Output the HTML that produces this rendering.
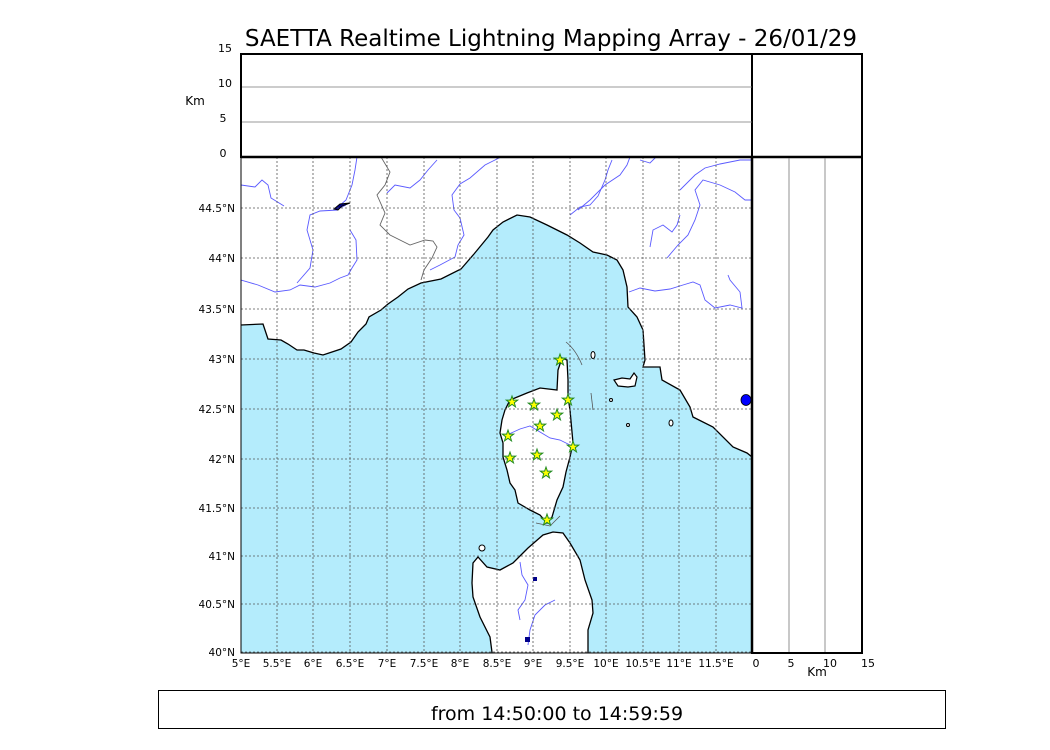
<!DOCTYPE html>
<html><head><meta charset="utf-8"><style>
html,body{margin:0;padding:0;background:#fff;}
svg{display:block;font-family:"DejaVu Sans","Liberation Sans",sans-serif;}
</style></head><body>
<svg width="1050" height="750" viewBox="0 0 1050 750" xmlns="http://www.w3.org/2000/svg">
<rect width="1050" height="750" fill="#fff"/>
<text x="551" y="46" font-size="23" text-anchor="middle">SAETTA Realtime Lightning Mapping Array - 26/01/29</text>

<defs><clipPath id="mc"><rect x="241" y="157" width="511" height="496"/></clipPath></defs>
<g clip-path="url(#mc)">
<path fill="#b4ecfc" stroke="#000" stroke-width="1.3" d="M241,325 L263,324 L268,339 L281,340 L288,344 L297,350 L304,350 L314,353 L323,355 L332,352 L341,349 L351,342 L358,332 L366,324 L369,317 L381,310 L388,304 L398,297 L408,289 L421,283 L441,279 L461,269 L474,254 L488,237 L493,230 L503,222 L517,215 L530,217 L547,225 L567,235 L580,243 L593,252 L607,255 L617,260 L623,270 L627,287 L628,307 L637,317 L643,330 L645,360 L643,367 L660,367 L662,380 L680,390 L690,407 L693,417 L713,427 L733,447 L747,453 L752,457 L760,660 L230,660 L230,325 Z"/>
<path fill="#fff" stroke="#000" stroke-width="1.3" d="M562,358 L567,360 L568,380 L568,397 L570,410 L573,443 L570,457 L566,472 L563,487 L557,500 L552,517 L547,523 L540,515 L530,510 L518,503 L515,490 L510,483 L507,470 L503,457 L503,443 L500,433 L502,420 L505,410 L510,400 L527,393 L540,388 L557,390 L558,370 Z"/>
<path fill="#fff" stroke="#000" stroke-width="1.3" d="M528,548 L543,535 L553,532 L563,533 L570,543 L580,560 L585,580 L592,600 L593,613 L588,630 L588,660 L493,660 L490,637 L480,617 L473,597 L472,583 L473,563 L478,557 L487,567 L500,570 L513,563 L523,553 Z"/>
<path fill="#fff" stroke="#000" stroke-width="1.2" d="M614,380 L622,378 L630,379 L634,373 L637,377 L635,386 L628,387 L618,386 Z"/>
<ellipse cx="593" cy="355" rx="2" ry="3.5" fill="#fff" stroke="#000"/>
<ellipse cx="671" cy="423" rx="2" ry="3" fill="#fff" stroke="#000"/>
<ellipse cx="628" cy="425" rx="1.5" ry="1.5" fill="#fff" stroke="#000"/>
<ellipse cx="611" cy="400" rx="1.5" ry="1.5" fill="#fff" stroke="#000"/>
<ellipse cx="482" cy="548" rx="3" ry="3" fill="#fff" stroke="#000"/>
<path d="M566,342 Q576,350 582,365" stroke="#555" fill="none" stroke-width="0.8"/>
<path d="M591,393 L593,410" stroke="#555" fill="none" stroke-width="0.8"/>
<path d="M536,523 L550,526 L560,516" stroke="#555" fill="none" stroke-width="0.8"/>
<path d="M381,157 L390,172 L385,185 L377,195 L385,213 L380,225 L390,235 L410,245 L425,240 L433,241 L437,247 L432,258 L424,270 L421,280" stroke="#666" fill="none" stroke-width="0.9"/>
<g stroke="#5a5aff" fill="none" stroke-width="0.9">
<path d="M241,185 L255,187 L262,180 L268,185 L271,198 L284,206"/>
<path d="M241,280 L258,285 L275,292 L290,290 L300,285 L315,287 L330,283 L340,278 L348,275 L352,268 L357,260 L356,240 L350,230"/>
<path d="M338,210 L320,211 L310,215 L307,230 L313,250 L310,268 L297,283"/>
<path d="M336,210 L346,205"/>
<path d="M357,157 L355,170 L352,185 L346,200 L338,207"/>
<path d="M387,193 L395,185 L410,188 L420,180 L428,170 L437,160"/>
<path d="M501,157 L485,165 L470,178 L460,184 L452,195 L454,210 L460,218 L464,235 L458,245 L455,257 L440,265 L430,270"/>
<path d="M570,215 L580,207 L590,205 L598,196 L605,180 L608,170 L612,160"/>
<path d="M650,247 L653,230 L663,225 L672,232 L677,225 L680,215"/>
<path d="M667,258 L678,245 L688,235 L695,220 L700,205 L695,190 L703,180 L720,185 L735,192 L745,200 L752,200"/>
<path d="M680,190 L695,175 L705,168 L720,164 L740,160 L752,160"/>
<path d="M629,292 L640,288 L655,291 L670,289 L683,285 L693,282 L700,285 L705,300 L715,308 L730,305 L742,308 L740,292 L730,280 L728,275"/>
<path d="M630,157 L627,165 L620,175 L605,185 L590,200 L578,210"/>
<path d="M640,160 L650,163 L656,157"/>
<path d="M509,434 L520,429 L530,426 L540,432 L550,438 L560,440 L570,445"/>
<path d="M520,562 L522,575 L528,585 L525,600 L518,610 L520,620"/>
<path d="M555,600 L545,605 L535,615 L530,630 L528,645"/>
</g>
<path d="M334,209 L340,204 L350,203 L342,206 L338,210 Z" fill="#00008b" stroke="#000"/>
<rect x="533" y="577" width="4" height="4" fill="#00008b"/>
<rect x="525" y="637" width="5" height="5" fill="#00008b"/>
<g stroke="#555" stroke-width="0.8" stroke-dasharray="2,2">
<line x1="277" y1="157" x2="277" y2="653"/><line x1="313" y1="157" x2="313" y2="653"/>
<line x1="350" y1="157" x2="350" y2="653"/><line x1="387" y1="157" x2="387" y2="653"/>
<line x1="424" y1="157" x2="424" y2="653"/><line x1="460" y1="157" x2="460" y2="653"/>
<line x1="497" y1="157" x2="497" y2="653"/><line x1="533" y1="157" x2="533" y2="653"/>
<line x1="570" y1="157" x2="570" y2="653"/><line x1="606" y1="157" x2="606" y2="653"/>
<line x1="643" y1="157" x2="643" y2="653"/><line x1="679" y1="157" x2="679" y2="653"/>
<line x1="716" y1="157" x2="716" y2="653"/>
<line x1="241" y1="208" x2="752" y2="208"/><line x1="241" y1="258" x2="752" y2="258"/>
<line x1="241" y1="309" x2="752" y2="309"/><line x1="241" y1="359" x2="752" y2="359"/>
<line x1="241" y1="409" x2="752" y2="409"/><line x1="241" y1="459" x2="752" y2="459"/>
<line x1="241" y1="508" x2="752" y2="508"/><line x1="241" y1="556" x2="752" y2="556"/>
<line x1="241" y1="604" x2="752" y2="604"/><line x1="241" y1="652" x2="752" y2="652"/>
</g>
<g fill="#ffff00" stroke="#228b22" stroke-width="1">
<path id="st" d="M0,-6 L1.4,-1.9 L5.7,-1.9 L2.3,0.7 L3.5,4.9 L0,2.4 L-3.5,4.9 L-2.3,0.7 L-5.7,-1.9 L-1.4,-1.9 Z" transform="translate(560,360)"/>
<use href="#st" transform="translate(-48,42)"/>
<use href="#st" transform="translate(-26,45)"/>
<use href="#st" transform="translate(8,40)"/>
<use href="#st" transform="translate(-3,55)"/>
<use href="#st" transform="translate(-20,66)"/>
<use href="#st" transform="translate(-52,76)"/>
<use href="#st" transform="translate(13,87)"/>
<use href="#st" transform="translate(-23,95)"/>
<use href="#st" transform="translate(-50,98)"/>
<use href="#st" transform="translate(-14,113)"/>
<use href="#st" transform="translate(-13,160)"/>
</g>
</g>
<ellipse cx="746" cy="400" rx="5" ry="5.5" fill="#0000ff" stroke="#000" stroke-width="0.8"/>

<rect x="241" y="157" width="511" height="496" fill="none" stroke="#000" stroke-width="1"/>
<line x1="752" y1="157" x2="752" y2="653" stroke="#000" stroke-width="2.5"/>
<rect x="241" y="54" width="621" height="103" fill="none" stroke="#000" stroke-width="2"/>
<line x1="752" y1="54" x2="752" y2="157" stroke="#000" stroke-width="2"/>
<line x1="241" y1="157" x2="862" y2="157" stroke="#000" stroke-width="2.5"/>
<line x1="242" y1="87" x2="752" y2="87" stroke="#777" stroke-width="0.8"/>
<line x1="242" y1="122" x2="752" y2="122" stroke="#777" stroke-width="0.8"/>
<rect x="752" y="157" width="110" height="496" fill="none" stroke="#000" stroke-width="2"/>
<line x1="789" y1="158" x2="789" y2="652" stroke="#777" stroke-width="0.8"/>
<line x1="825" y1="158" x2="825" y2="652" stroke="#777" stroke-width="0.8"/>

<g font-size="11" text-anchor="middle">
<text x="225" y="52">15</text><text x="225" y="87">10</text><text x="223" y="122">5</text><text x="223" y="157">0</text>
<text x="195" y="105" font-size="12">Km</text>
<text x="756" y="667">0</text><text x="791" y="667">5</text><text x="830" y="667">10</text><text x="868" y="667">15</text>
<text x="817" y="676" font-size="12">Km</text>
</g>
<g font-size="10.5" text-anchor="end">
<text x="235" y="212">44.5°N</text><text x="235" y="262">44°N</text><text x="235" y="313">43.5°N</text>
<text x="235" y="363">43°N</text><text x="235" y="413">42.5°N</text><text x="235" y="463">42°N</text>
<text x="235" y="512">41.5°N</text><text x="235" y="560">41°N</text><text x="235" y="608">40.5°N</text><text x="235" y="656">40°N</text>
</g>
<g font-size="10.5" text-anchor="middle">
<text x="241" y="667">5°E</text><text x="277" y="667">5.5°E</text><text x="313" y="667">6°E</text>
<text x="350" y="667">6.5°E</text><text x="387" y="667">7°E</text><text x="424" y="667">7.5°E</text>
<text x="460" y="667">8°E</text><text x="497" y="667">8.5°E</text><text x="533" y="667">9°E</text>
<text x="570" y="667">9.5°E</text><text x="606" y="667">10°E</text><text x="643" y="667">10.5°E</text>
<text x="679" y="667">11°E</text><text x="716" y="667">11.5°E</text>
</g>
<rect x="158.5" y="690.5" width="787" height="38" fill="none" stroke="#000" stroke-width="1"/>
<text x="557" y="720" font-size="19" text-anchor="middle">from 14:50:00 to 14:59:59</text>
</svg>
</body></html>
